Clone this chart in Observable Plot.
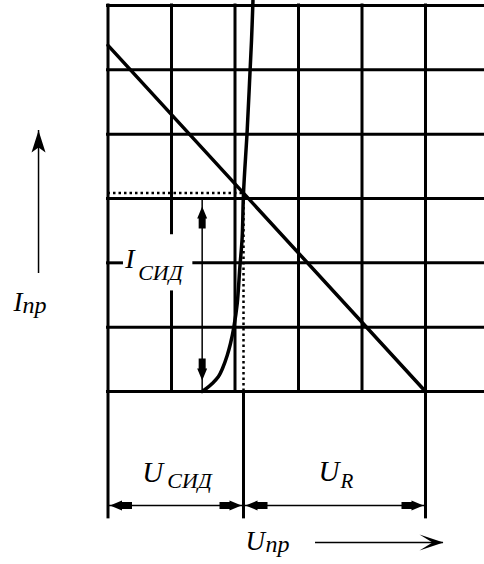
<!DOCTYPE html>
<html>
<head>
<meta charset="utf-8">
<script src="https://cdn.jsdelivr.net/npm/d3@7"></script>
<script src="https://cdn.jsdelivr.net/npm/@observablehq/plot@0.6"></script>
<style>
  html, body { margin: 0; padding: 0; background: #fff; }
</style>
</head>
<body>
<div id="chart"></div>
<script>
// Grid divisions: forward voltage along x, forward current along y (cell units)
const uTicks = [0, 1, 2, 3, 4, 5];
const iTicks = [0, 1, 2, 3, 4, 5, 6];

// Load line of the series resistor
const loadU = [0, 5];
const loadI = [5.38, 0];

// Forward characteristic of the LED
const ledU = [1.483, 1.551, 1.641, 1.740, 1.803, 1.877, 1.929, 1.981, 2.035, 2.076, 2.113, 2.134, 2.192, 2.228, 2.260, 2.283];
const ledI = [0, 0.047, 0.124, 0.233, 0.358, 0.560, 0.746, 0.995, 1.368, 1.928, 2.394, 3.084, 4.057, 4.788, 5.456, 6.078];

// Operating point (load line meets the LED curve)
const opU = 2.134;
const opI = 3.084;

// Labels
const axisI = ["I", "пр"];
const axisU = ["U", "пр"];
const labelLedI = ["I", "СИД"];
const labelLedU = ["U", "СИД"];
const labelResU = ["U", "R"];

// ---- layout (cell units) ----
const gridRight = 5.93;        // horizontal rules run on to the right edge
const labelRow = 2;            // row that carries the current label
const hGap = [0.22, 1.36];     // break in that row for the label
const vGapCol = 1;             // column broken around the label
const vGap = [1.54, 2.46];
const extBottom = -1.98;       // foot of the extension lines
const dimRow = -1.772;         // level of the voltage dimension lines
const iArrow = {u: -1.094, i1: 1.834, i2: 4.057};
const uArrow = {i: -2.347, u1: 3.268, u2: 5.283};

const loadLine = loadU.map((u, k) => ({u, i: loadI[k]}));
const ledCurve = ledU.map((u, k) => ({u, i: ledI[k]}));

const hRules = iTicks.flatMap(i => i === labelRow
  ? [{i, a: 0, b: hGap[0]}, {i, a: hGap[1], b: gridRight}]
  : [{i, a: 0, b: gridRight}]);
const vRules = uTicks.flatMap(u => u === vGapCol
  ? [{u, a: 0, b: vGap[0]}, {u, a: vGap[1], b: iTicks[iTicks.length - 1]}]
  : [{u, a: 0, b: iTicks[iTicks.length - 1]}]);

// Arrowhead symbols; tip at the origin, drawn along the given angle
function head(angle, pts) {
  const c = Math.cos(angle), s = Math.sin(angle);
  return {
    draw(ctx) {
      pts.forEach(([x, y], k) => {
        const px = x * c - y * s, py = x * s + y * c;
        k ? ctx.lineTo(px, py) : ctx.moveTo(px, py);
      });
      ctx.closePath();
    }
  };
}
function dimHead(angle) {
  const L = 12, H = 5, T = 10, TH = 3.5;
  return head(angle, [[0, 0], [-L, -H], [-L, -TH], [-L - T, -TH], [-L - T, TH], [-L, TH], [-L, H]]);
}
function axisHead(angle, L, H, N) {
  return head(angle, [[0, 0], [-L, -H], [-L + N, 0], [-L, H]]);
}
const RIGHT = 0, DOWN = Math.PI / 2, LEFT = Math.PI, UP = -Math.PI / 2;

const serif = "'Liberation Serif', 'Times New Roman', serif";
const txt = (x, y, text, size, dx, dy) => Plot.text([text], {
  x: () => x, y: () => y, text: d => d, dx, dy,
  fontFamily: serif, fontStyle: "italic", fontSize: size,
  textAnchor: "start", lineAnchor: "bottom", fill: "black"
});
const arrowDot = (x, y, symbol, dx = 0, dy = 0) =>
  Plot.dot([0], {x: () => x, y: () => y, symbol, dx, dy, fill: "black", stroke: "none"});

const uEnd = uTicks[uTicks.length - 1];
const dimMidL = (0 + opU) / 2;
const dimMidR = (opU + uEnd) / 2;
const iDimTop = Math.floor(opI);   // current dimension hangs from the grid row under the operating point

const chart = Plot.plot({
  width: 484,
  height: 564,
  margin: 0,
  x: {domain: [0, 5], range: [107.5, 425], axis: null},
  y: {domain: [0, 6], range: [391, 5], axis: null},
  style: {background: "white", color: "black"},
  marks: [
    // grid
    Plot.ruleY(hRules, {y: "i", x1: "a", x2: "b", stroke: "black", strokeWidth: 3, strokeLinecap: "square"}),
    Plot.ruleX(vRules, {x: "u", y1: "a", y2: "b", stroke: "black", strokeWidth: 3, strokeLinecap: "square"}),

    // extension lines below the grid
    Plot.ruleX([0, opU, uEnd], {x: d => d, y1: 0, y2: extBottom, stroke: "black", strokeWidth: 3}),

    // dotted projections of the operating point
    Plot.ruleY([opI], {y: d => d, x1: 0, x2: opU, stroke: "black", strokeWidth: 2.5, strokeDasharray: "2.5,3"}),
    Plot.ruleX([opU], {x: d => d, y1: 0, y2: opI, stroke: "black", strokeWidth: 2.5, strokeDasharray: "2.5,3"}),

    // load line and LED characteristic
    Plot.line(loadLine, {x: "u", y: "i", stroke: "black", strokeWidth: 3.5}),
    Plot.line(ledCurve, {x: "u", y: "i", stroke: "black", strokeWidth: 3.5, curve: "catmull-rom"}),

    // current dimension
    Plot.ruleX([ledU[0]], {x: d => d, y1: 0, y2: iDimTop, dy: 2, stroke: "black", strokeWidth: 1.5}),
    arrowDot(ledU[0], iDimTop, dimHead(UP), 0, 8),
    arrowDot(ledU[0], 0, dimHead(DOWN), 0, -11),
    txt(ledU[0], labelRow, labelLedI[0], 28, -77, 5),
    txt(ledU[0], labelRow, labelLedI[1], 22, -64, 17),

    // voltage dimensions
    Plot.ruleY([dimRow], {y: d => d, x1: 0, x2: uEnd, stroke: "black", strokeWidth: 1.5}),
    arrowDot(0, dimRow, dimHead(LEFT), 2, 0),
    arrowDot(opU, dimRow, dimHead(RIGHT), -2, 0),
    arrowDot(opU, dimRow, dimHead(LEFT), 2, 0),
    arrowDot(uEnd, dimRow, dimHead(RIGHT), -2, 0),
    txt(dimMidL, dimRow, labelLedU[0], 29, -33.5, -23.5),
    txt(dimMidL, dimRow, labelLedU[1], 22, -8.5, -17),
    txt(dimMidR, dimRow, labelResU[0], 29, -16, -24),
    txt(dimMidR, dimRow, labelResU[1], 21, 6, -17),

    // axis arrows and names
    Plot.ruleX([iArrow.u], {x: d => d, y1: iArrow.i1, y2: iArrow.i2, stroke: "black", strokeWidth: 1.5}),
    arrowDot(iArrow.u, iArrow.i2, axisHead(UP, 22, 7, 5)),
    txt(iArrow.u, iArrow.i1, axisI[0], 27, -25, 37),
    txt(iArrow.u, iArrow.i1, axisI[1], 24, -16, 39),

    Plot.ruleY([uArrow.i], {y: d => d, x1: uArrow.u1, x2: uArrow.u2, stroke: "black", strokeWidth: 1.5}),
    arrowDot(uArrow.u2, uArrow.i, axisHead(RIGHT, 24, 8, 13)),
    txt(uArrow.u1, uArrow.i, axisU[0], 27, -70, 8),
    txt(uArrow.u1, uArrow.i, axisU[1], 24, -50, 10)
  ]
});

document.getElementById("chart").appendChild(chart);
</script>
</body>
</html>
